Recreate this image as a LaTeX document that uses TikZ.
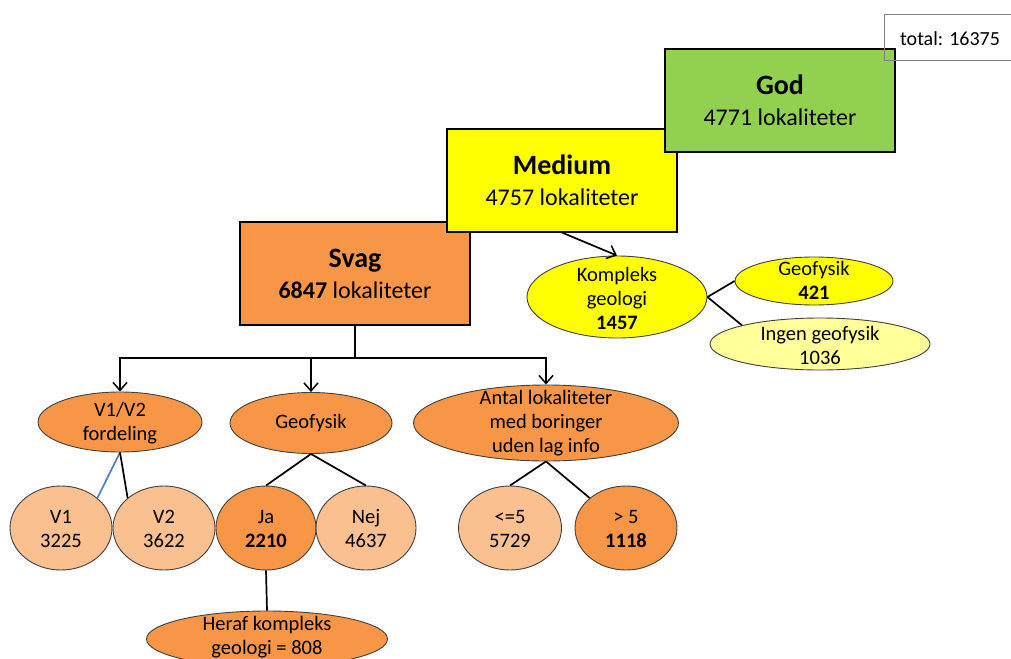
\documentclass[tikz,border=0pt]{standalone}
\usepackage{fontspec}
\setmainfont{Carlito}
\usetikzlibrary{shapes.geometric,arrows.meta}
\definecolor{org}{HTML}{F79646}
\definecolor{lorg}{HTML}{FAC090}
\definecolor{yel}{HTML}{FFFF00}
\definecolor{lyel}{HTML}{FFFF99}
\definecolor{grn}{HTML}{92D050}
\definecolor{bord}{HTML}{404040}
\definecolor{blu}{HTML}{4F81BD}
\tikzset{
  bigbox/.style={draw=black,line width=1.1pt,minimum width=230pt,minimum height=103pt,inner sep=0pt,align=center,font=\fontsize{24}{31}\selectfont},
  ell/.style={ellipse,draw=bord,line width=0.9pt,inner sep=0pt},
  etext/.style={align=center,inner sep=0pt,font=\fontsize{20.5}{24}\selectfont},
  conn/.style={line width=1.7pt,black},
  arr/.style={conn,-{Straight Barb[length=8pt,width=14pt,line width=1.5pt]}}
}
\begin{document}
\begin{tikzpicture}[x=1pt,y=-1pt]
\useasboundingbox (0,0) rectangle (1011,658);
\fill[white] (0,0) rectangle (1011,658);
\clip (0,0) rectangle (1011,658);
% boxes
\node[bigbox,fill=org] (svag) at (355,273.5) {\textbf{\fontsize{28}{31}\selectfont Svag}\\\textbf{6847} lokaliteter};
\node[bigbox,fill=yel] (med) at (562,180.5) {\textbf{\fontsize{28}{31}\selectfont Medium}\\4757 lokaliteter};
\node[bigbox,fill=grn] (god) at (780,100.5) {\textbf{\fontsize{28}{31}\selectfont God}\\4771 lokaliteter};
\node[draw=gray,line width=0.9pt,minimum width=140pt,minimum height=46pt,inner sep=0pt] (tot) at (954,37) {};
\node[anchor=west,inner sep=0pt,font=\fontsize{20}{24}\selectfont] (tott) at (900,39) {total: 16375};
% medium subtree
\node[ell,fill=yel,minimum width=180pt,minimum height=82pt] (komp) at (617,297) {};
\node[etext] (kompt) at (617,298) {Kompleks\\geologi\\\textbf{1457}};
\node[ell,fill=yel,minimum width=158pt,minimum height=48pt] (geo2) at (814,281) {};
\node[etext] (geo2t) at (814,280.5) {Geofysik\\\textbf{421}};
\node[ell,fill=lyel,minimum width=220pt,minimum height=52pt] (ingen) at (820,344) {};
\node[etext] (ingent) at (820,345) {Ingen geofysik\\1036};
\draw[arr] (med.south) -- (komp.north);
\draw[conn] (komp.east) -- (geo2.west);
\draw[conn] (komp.east) -- (ingen.north west);
% svag subtree
\node[ell,fill=org,minimum width=164pt,minimum height=60pt] (v12) at (120,422) {};
\node[etext] (v12t) at (120,423) {V1/V2\\fordeling};
\node[ell,fill=org,minimum width=162pt,minimum height=61pt] (geo) at (311,423) {};
\node[etext] (geot) at (311,423) {Geofysik};
\node[ell,fill=org,minimum width=265pt,minimum height=76pt] (ant) at (546,423) {};
\node[etext] (antt) at (546,423) {Antal lokaliteter\\med boringer\\uden lag info};
\coordinate (j) at (355,358);
\draw[conn] (svag.south) -- (j);
\draw[arr] (j) -| (v12.north);
\draw[arr] (j) -| (geo.north);
\draw[arr] (j) -| (ant.north);
% circles
\node[ell,fill=lorg,minimum width=102pt,minimum height=84pt] (v1) at (61,528) {};
\node[etext] (v1t) at (61,529) {V1\\3225};
\node[ell,fill=lorg,minimum width=102pt,minimum height=84pt] (v2) at (164,528) {};
\node[etext] (v2t) at (164,529) {V2\\3622};
\node[ell,fill=org,minimum width=100pt,minimum height=84pt] (ja) at (266,528) {};
\node[etext] (jat) at (266,529) {Ja\\\textbf{2210}};
\node[ell,fill=lorg,minimum width=100pt,minimum height=84pt] (nej) at (366,528) {};
\node[etext] (nejt) at (366,529) {Nej\\4637};
\node[ell,fill=lorg,minimum width=103pt,minimum height=84pt] (le) at (510,528) {};
\node[etext] (let) at (510,529) {<=5\\5729};
\node[ell,fill=org,minimum width=102pt,minimum height=84pt] (gt) at (626,528) {};
\node[etext] (gtt) at (626,529) {> 5\\\textbf{1118}};
\node[ell,fill=org,minimum width=241pt,minimum height=56pt] (her) at (267,639) {};
\node[etext] (hert) at (267,637) {Heraf kompleks\\geologi = 808};
\draw[line width=1.7pt,blu] (v12.south) -- (v1.north east);
\draw[conn] (v12.south) -- (v2.north west);
\draw[conn] (geo.south) -- (ja.north);
\draw[conn] (geo.south) -- (nej.north);
\draw[conn] (ant.south) -- (le.north);
\draw[conn] (ant.south) -- (gt.north west);
\draw[conn] (ja.south) -- (her.north);
\end{tikzpicture}
\end{document}
